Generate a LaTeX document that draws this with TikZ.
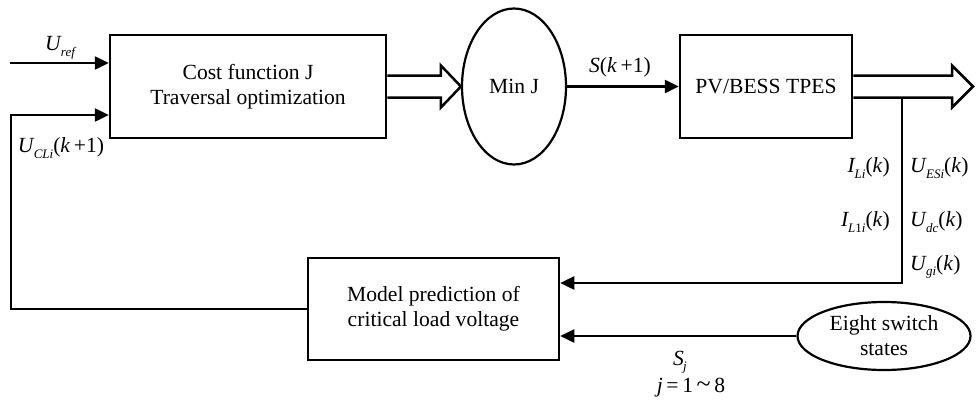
\documentclass[tikz,border=0pt]{standalone}
\usepackage{fontspec}
\setmainfont{Liberation Serif}
\usetikzlibrary{arrows.meta,shapes.geometric,calc}
\newcommand{\vsub}[2]{\textit{#1}\kern-0.04em\raisebox{-0.55ex}{\fontsize{13}{13}\selectfont\itshape #2}}
\begin{document}
\begin{tikzpicture}[x=1pt,y=-1pt,
  every node/.style={font=\fontsize{21.6}{25}\selectfont},
  blk/.style={draw,line width=2.5pt,align=center,inner sep=0pt},
  oval/.style={draw,ellipse,line width=2.2pt,align=center,inner sep=0pt},
  conn/.style={line width=2.5pt},
  arr/.style={conn,-{Triangle[length=14pt,width=13pt]}},
  hollow/.style={line width=2.5pt,line join=miter},
  lbl/.style={inner sep=0pt}]
\useasboundingbox (0,0) rectangle (976,404);
% blocks
\node[blk,minimum width=276pt,minimum height=103pt] (cost) at (248,86.5) {Cost function J\\Traversal optimization};
\node[oval,minimum width=104pt,minimum height=156pt] (minj) at (514,86.5) {Min J};
\node[blk,minimum width=172pt,minimum height=103pt] (pv) at (766,86.5) {PV/BESS TPES};
\node[blk,minimum width=251pt,minimum height=102pt] (model) at (433.5,309) {Model prediction of\\critical load voltage};
\node[oval,minimum width=173pt,minimum height=68pt] (sw) at (884,336) {Eight switch\\states};
% free ends
\coordinate (uin) at (10,63);
\coordinate (out) at (973,86.5);
\coordinate (tap) at (902,97.5);
% inputs
\draw[arr] (uin) -- (cost.west |- uin);
\draw[arr] (model.west) -- ++(-296,0) |- ($(cost.west)+(0,28.5)$);
\draw[arr] (minj.east) -- (pv.west);
% hollow arrows
\draw[hollow] ($(cost.east)+(0,-11)$) -- ($(minj.west)+(-20,-11)$) -- ++(0,-10) -- (minj.west)
  -- ($(minj.west)+(-20,21)$) -- ++(0,-10) -- ($(cost.east)+(0,11)$);
\draw[hollow] ($(pv.east)+(0,-11)$) -- ($(out)+(-21,-11)$) -- ++(0,-10) -- (out)
  -- ($(out)+(-21,21)$) -- ++(0,-10) -- ($(pv.east)+(0,11)$);
% feedback
\draw[arr] (tap) -- ++(0,185.5) -- ($(model.east)+(0,-26)$);
\draw[arr] (sw.west) -- (model.east |- sw.west);
% labels
\node[lbl] (lref) at (60,48) {\vsub{U}{ref}};
\node[lbl] (lcl) at (61,148) {\vsub{U}{CLi}(\textit{k}\,+1)};
\node[lbl] (lsk) at (620,67) {\textit{S}(\textit{k}\,+1)};
\node[lbl,anchor=east] (lil) at (890,168) {\vsub{I}{Li}(\textit{k})};
\node[lbl,anchor=west] (lues) at (910,168) {\vsub{U}{ESi}(\textit{k})};
\node[lbl,anchor=east] (lil1) at (890,222) {\textit{I}\kern-0.04em\raisebox{-0.55ex}{\fontsize{13}{13}\selectfont\itshape L\upshape 1\itshape i}(\textit{k})};
\node[lbl,anchor=west] (ludc) at (910,222) {\vsub{U}{dc}(\textit{k})};
\node[lbl,anchor=west] (lugi) at (910,267) {\vsub{U}{gi}(\textit{k})};
\node[lbl] (lsj) at (680,362) {\vsub{S}{j}};
\node[lbl] (lj) at (691,388) {\textit{j}\,=\,1\,{\fontsize{26}{26}\selectfont\textasciitilde}\,8};
\end{tikzpicture}
\end{document}
